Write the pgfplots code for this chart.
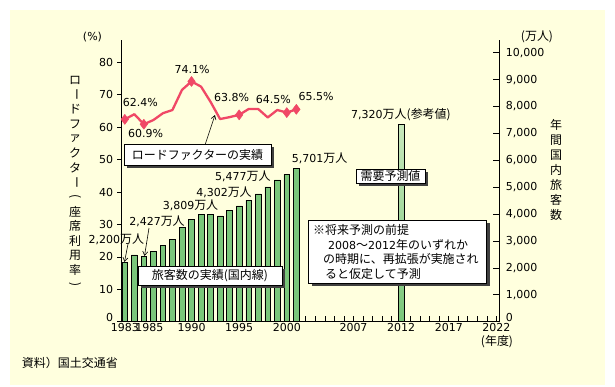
\documentclass[border=0pt]{standalone}
\usepackage{pgfplots}
\pgfplotsset{compat=1.18}
\usepackage{graphicx}
\usepackage{fontspec}
\setmainfont{DejaVu Sans}
\newfontfamily\cjk{Noto Sans CJK JP}[Scale=1.09]
\usetikzlibrary{shadows,arrows.meta}
\definecolor{cream}{RGB}{255,255,222}
\definecolor{barG}{RGB}{122,198,122}
\definecolor{barL}{RGB}{200,232,188}
\definecolor{lineR}{RGB}{240,72,102}
\newcommand\J[1]{{\cjk #1}}
\newcommand\VB{\rotatebox[origin=c]{-90}{\cjk ー}}
\newcommand\VL{\rotatebox[origin=c]{-90}{\cjk (}}
\newcommand\VR{\rotatebox[origin=c]{-90}{\cjk )}}
\newcommand\Zero{\raisebox{4.5pt}[\height][\depth]{0}}
\begin{document}
\fontsize{11}{13}\selectfont
\begin{tikzpicture}[font=\fontsize{11}{13}\selectfont]
\useasboundingbox (0,0) rectangle (615pt,-386pt);
\fill[white] (0,0) rectangle (615pt,-386pt);
\fill[cream] (10pt,-10pt) rectangle (605pt,-385pt);

% right axis: passengers (bars) + x axis
\begin{axis}[at={(121pt,-321.7pt)}, anchor=south west, scale only axis,
  width=378pt, height=281.7pt, xmin=1982.6, xmax=2022.27, ymin=0, ymax=10472,
  axis x line*=bottom, axis y line*=right, axis line style={-,line width=0.8pt},
  tick align=inside, major tick length=6pt, minor tick length=6pt,
  tick style={black, line width=0.7pt},
  xtick={1983,1985,1990,1995,2000,2007,2012,2017,2022},
  xticklabels={{1983\hspace{6pt}},{\hspace{11pt}1985},1990,1995,2000,2007,2012,2017,2022},
  minor xtick={1983,...,2022},
  scaled y ticks=false,
  ytick={0,1000,...,10000},
  yticklabels={\Zero,{1,000},{2,000},{3,000},{4,000},{5,000},{6,000},{7,000},{8,000},{9,000},{10,000}},
  tick label style={font=\fontsize{11}{13}\selectfont},
  xticklabel style={yshift=2pt},
  yticklabel style={xshift=3pt},
  clip=false]
\addplot[ybar, bar width=5.7pt, bar shift=0pt, fill=barG, draw=black, line width=0.6pt] coordinates {
(1983,2200) (1984,2480) (1985,2427) (1986,2620) (1987,2830) (1988,3060) (1989,3500)
(1990,3809) (1991,4000) (1992,4000) (1993,3930) (1994,4150) (1995,4302) (1996,4520)
(1997,4750) (1998,5010) (1999,5270) (2000,5477) (2001,5701)};
\addplot[ybar, bar width=5.7pt, bar shift=0pt, draw=black, line width=0.6pt, top color=barL, middle color=barL, bottom color=barG] coordinates {(2012,7320)};
\end{axis}

% left axis: load factor
\begin{axis}[at={(121pt,-321.7pt)}, anchor=south west, scale only axis,
  width=378pt, height=281.7pt, xmin=1982.6, xmax=2022.27, ymin=0, ymax=86.88,
  axis x line=none, axis y line*=left, axis line style={-,line width=0.8pt},
  tick align=outside, major tick length=4pt, tick style={black,line width=0.7pt},
  ytick={0,10,...,80},
  yticklabels={\Zero,10,20,30,40,50,60,70,80},
  tick label style={font=\fontsize{11}{13}\selectfont},
  clip=false]
\addplot[lineR, line width=2.3pt, line join=round, mark=diamond*, mark size=5pt,
  mark indices={1,3,8,13,18,19}, mark options={solid,fill=lineR,draw=lineR,line width=0.5pt}] coordinates {
(1983,62.4) (1984,64.0) (1985,60.9) (1986,62.2) (1987,64.3) (1988,65.3) (1989,71.5)
(1990,74.1) (1991,72.5) (1992,67.8) (1993,62.5) (1994,63.1) (1995,63.8) (1996,65.6)
(1997,65.6) (1998,63.0) (1999,65.3) (2000,64.5) (2001,65.5)};
\end{axis}

\begin{scope}[x=1pt,y=-1pt]
\tikzset{sbox/.style={draw=black, fill=white, line width=0.7pt, inner sep=0pt,
  general shadow={fill=black!75, shadow xshift=3pt, shadow yshift=-3pt}},
  t/.style={inner sep=0pt}}
\node[t] at (92.5,37) {(\%)};
\node[t] at (537,37) {\J{(万人)}};
\node[t] at (497,342) {\J{(年度)}};
\node[anchor=west,inner sep=0pt] at (21.7,363) {\J{資料）国土交通省}};
\foreach \c [count=\i from 0] in {ロ,\VB,ド,フ,ァ,ク,タ,\VB,\VL,座,席,利,用,率,\VR}
  \node[t] at (75,80+\i*14.64) {\J{\c}};
\foreach \c [count=\i from 0] in {年,間,国,内,旅,客,数}
  \node[t] at (556,125+\i*15) {\J{\c}};
% percentages
\node[t] at (140.3,102.8) {62.4\%};
\node[t] at (145.5,133) {60.9\%};
\node[t] at (192,69.5) {74.1\%};
\node[t] at (231.7,97) {63.8\%};
\node[t] at (273.3,99.5) {64.5\%};
\node[t] at (316,96) {65.5\%};
% passenger labels
\node[t] at (116.3,238.8) {2,200\J{万人}};
\node[t] at (157,221.7) {2,427\J{万人}};
\node[t] at (190.5,205.3) {3,809\J{万人}};
\node[t] at (224,192.6) {4,302\J{万人}};
\node[t] at (242.8,176.5) {5,477\J{万人}};
\node[t] at (319.7,158.7) {5,701\J{万人}};
\node[t] at (401,115) {7,320\J{万人(参考値)}};
% arrows
\draw[line width=0.6pt,-{Straight Barb[length=4pt,width=5pt]}] (205,145) -- (215,115);
\draw[line width=0.6pt,-{Straight Barb[length=4pt,width=5pt]}] (128,244) -- (124.5,262);
\draw[line width=0.6pt,-{Straight Barb[length=4pt,width=5pt]}] (149,228) -- (144.5,256);
% boxes
\node[sbox, minimum width=147pt, minimum height=21pt] at (197.5,154.5) {\J{ロードファクターの実績}};
\node[sbox, minimum width=144pt, minimum height=19pt] at (210,275.5) {\J{旅客数の実績(国内線)}};
\node[sbox, minimum width=69pt, minimum height=14pt] at (390.5,176.3) {\J{需要予測値}};
\node[sbox, minimum width=178pt, minimum height=63pt] at (397.5,251.5) {};
\node[anchor=west,inner sep=0pt] at (313,230) {\J{※将来予測の前提}};
\node[anchor=west,inner sep=0pt] at (328,244.5) {2008\J{～}2012\J{年のいずれか}};
\node[anchor=west,inner sep=0pt] at (323,259) {\J{の時期に、再拡張が実施され}};
\node[anchor=west,inner sep=0pt] at (325,273.5) {\J{ると仮定して予測}};
\end{scope}
\end{tikzpicture}
\end{document}
